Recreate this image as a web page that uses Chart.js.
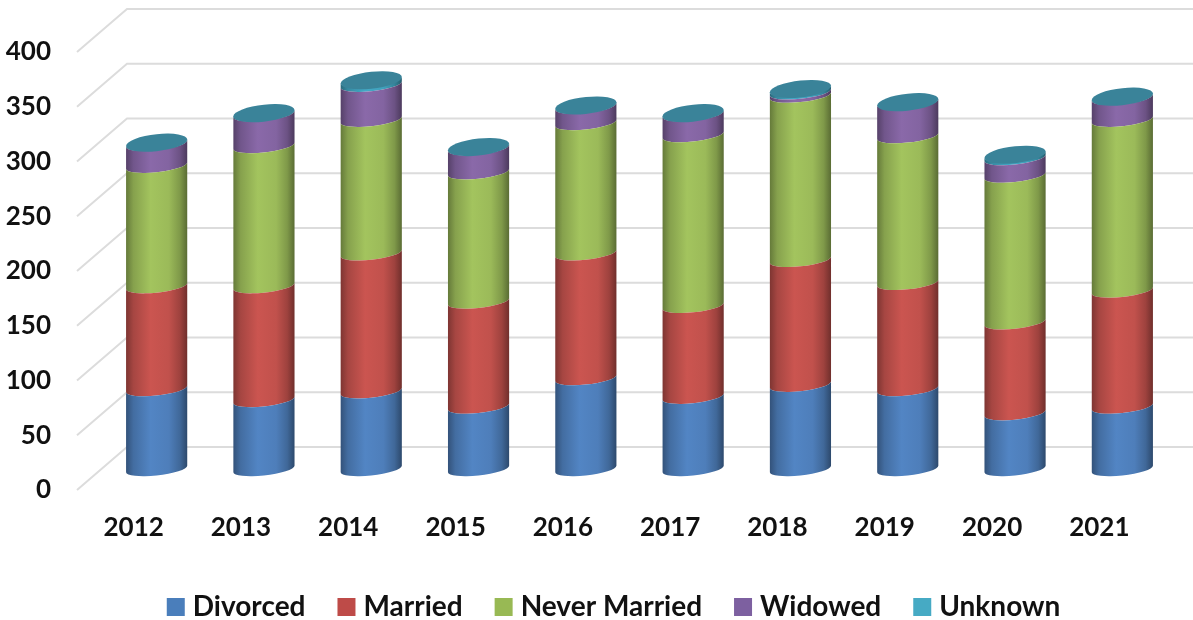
<!DOCTYPE html>
<html>
<head>
<meta charset="utf-8">
<style>
  html, body { margin: 0; padding: 0; background: #fff; overflow: hidden; }
  #wrap { width: 1193px; height: 620px; }
  canvas { filter: blur(0.5px); }
</style>
<script src="https://cdn.jsdelivr.net/npm/chart.js@4/dist/chart.umd.min.js"></script>
</head>
<body>
<div id="wrap"><canvas id="chart" width="1193" height="620"></canvas></div>
<script>
const years = ['2012', '2013', '2014', '2015', '2016', '2017', '2018', '2019', '2020', '2021'];
const divorced = [73, 63, 71, 57, 83, 66, 77, 73, 51, 57];
const married = [94, 104, 126, 96, 114, 83, 114, 97, 83, 106];
const neverMarried = [110, 128, 122, 118, 119, 156, 150, 134, 134, 156];
const widowed = [20, 29, 32, 22, 15, 19, 3, 31, 16, 20];
const unknown = [1, 1, 4, 1, 1, 1, 3, 0, 3, 1];

const legendColors = ['#4a7ebb', '#be4b48', '#98b954', '#7d60a0', '#46aac4'];
const barColors = ['#5285c4', '#cb5550', '#a3c45e', '#8a69a9', '#43a9c6'];
const capColor = '#3a8399';

// fake 3D depth: back wall sits up and to the right of the front plane
const DEPTH_X = 50, DEPTH_Y = 43;
const WALL_LEFT = 77;
const BAR_DX = 23, BAR_DY = 21;
const RIM_RY = 6.5, CAP_RY = 8.5, TILT = 3.2;

function shade(hex, k) {
  const n = parseInt(hex.slice(1), 16);
  const r = Math.round(((n >> 16) & 255) * k);
  const g = Math.round(((n >> 8) & 255) * k);
  const b = Math.round((n & 255) * k);
  return `rgb(${r}, ${g}, ${b})`;
}

// half of a sheared ellipse, so that the sides stay vertical
function addArc(ctx, cx, cy, rx, ry, from, to, ccw) {
  ctx.save();
  ctx.transform(1, -TILT / rx, 0, 1, cx, cy);
  ctx.ellipse(0, 0, rx, ry, 0, from, to, ccw);
  ctx.restore();
}

class CylinderElement extends Chart.BarElement {
  draw(ctx) {
    const { x, y, base, width, options } = this.getProps(['x', 'y', 'base', 'width', 'options']);
    if (Math.abs(base - y) < 0.01) return;
    const cx = x + BAR_DX, rx = width / 2;
    const top = y - BAR_DY, bottom = base - BAR_DY;
    const color = options.backgroundColor;
    const grad = ctx.createLinearGradient(cx - rx, 0, cx + rx, 0);
    grad.addColorStop(0, shade(color, 0.62));
    grad.addColorStop(0.12, shade(color, 0.82));
    grad.addColorStop(0.4, shade(color, 1));
    grad.addColorStop(0.7, shade(color, 0.95));
    grad.addColorStop(0.88, shade(color, 0.78));
    grad.addColorStop(1, shade(color, 0.55));
    ctx.save();
    ctx.beginPath();
    addArc(ctx, cx, top, rx, RIM_RY, 0, Math.PI, false);
    addArc(ctx, cx, bottom, rx, RIM_RY, Math.PI, 0, true);
    ctx.closePath();
    ctx.fillStyle = grad;
    ctx.fill();
    ctx.restore();
  }
}
CylinderElement.id = 'cylinder';
CylinderElement.defaults = Chart.BarElement.defaults;
CylinderElement.defaultRoutes = Chart.BarElement.defaultRoutes;

class CylinderController extends Chart.BarController {}
CylinderController.id = 'cylinderBar';
CylinderController.defaults = Object.assign({}, Chart.BarController.defaults, { dataElementType: 'cylinder' });
CylinderController.overrides = Chart.BarController.overrides;

Chart.register(CylinderElement, CylinderController);

const wallPlugin = {
  id: 'wall',
  beforeDatasetsDraw(chart) {
    const { ctx, scales, width } = chart;
    ctx.save();
    ctx.strokeStyle = '#dcdcdc';
    ctx.lineWidth = 2;
    scales.y.ticks.forEach(t => {
      const py = scales.y.getPixelForValue(t.value);
      ctx.beginPath();
      ctx.moveTo(WALL_LEFT, py);
      ctx.lineTo(WALL_LEFT + DEPTH_X, py - DEPTH_Y);
      ctx.lineTo(width, py - DEPTH_Y);
      ctx.stroke();
    });
    ctx.restore();
  }
};

// caps go on last so the segments below never cover them
const capPlugin = {
  id: 'caps',
  afterDatasetsDraw(chart) {
    const { ctx } = chart;
    const meta = chart.getDatasetMeta(chart.data.datasets.length - 1);
    ctx.save();
    meta.data.forEach(el => {
      const { x, y, width } = el.getProps(['x', 'y', 'width']);
      ctx.beginPath();
      addArc(ctx, x + BAR_DX, y - BAR_DY, width / 2, CAP_RY, 0, Math.PI * 2, false);
      ctx.fillStyle = capColor;
      ctx.fill();
    });
    ctx.restore();
  }
};

// the large legend padding is only for item spacing, so move the box into place after layout
const legendShift = {
  id: 'legendShift',
  afterLayout(chart) {
    chart.legend.top += 11;
    chart.legend.bottom += 11;
    chart.legend.left += 40;
    chart.legend.right += 40;
  }
};

const names = ['Divorced', 'Married', 'Never Married', 'Widowed', 'Unknown'];
const series = [divorced, married, neverMarried, widowed, unknown];

new Chart(document.getElementById('chart'), {
  type: 'cylinderBar',
  data: {
    labels: years,
    datasets: series.map((values, i) => ({
      label: names[i],
      data: values,
      backgroundColor: barColors[i],
      barPercentage: 0.57,
      categoryPercentage: 1,
      clip: false
    }))
  },
  plugins: [wallPlugin, capPlugin, legendShift],
  options: {
    responsive: false,
    animation: false,
    layout: { padding: { left: 0, right: 40, top: 52, bottom: 0 } },
    scales: {
      x: {
        stacked: true,
        grid: { display: false },
        border: { display: false },
        ticks: {
          padding: 14,
          color: '#111',
          font: { family: 'Lato', size: 26, weight: 'bold' },
          maxRotation: 0
        },
        afterFit: s => { s.height = 54; }
      },
      y: {
        stacked: true,
        min: 0,
        max: 400,
        grid: { display: false },
        border: { display: false },
        ticks: {
          stepSize: 50,
          padding: 21,
          color: '#111',
          font: { family: 'Lato', size: 26, weight: 'bold' }
        },
        afterFit: s => { s.width = 80; }
      }
    },
    plugins: {
      tooltip: { enabled: false },
      legend: {
        position: 'bottom',
        labels: {
          // small box with a thick stroke keeps the text close to the swatch
          boxWidth: 6,
          boxHeight: 6,
          padding: 38,
          color: '#111',
          font: { family: 'Lato', size: 28, weight: 'bold' },
          generateLabels: chart => chart.data.datasets.map((d, i) => ({
            text: d.label,
            fillStyle: legendColors[i],
            strokeStyle: legendColors[i],
            lineWidth: 12,
            fontColor: '#111',
            datasetIndex: i
          }))
        }
      }
    }
  }
});
</script>
</body>
</html>
